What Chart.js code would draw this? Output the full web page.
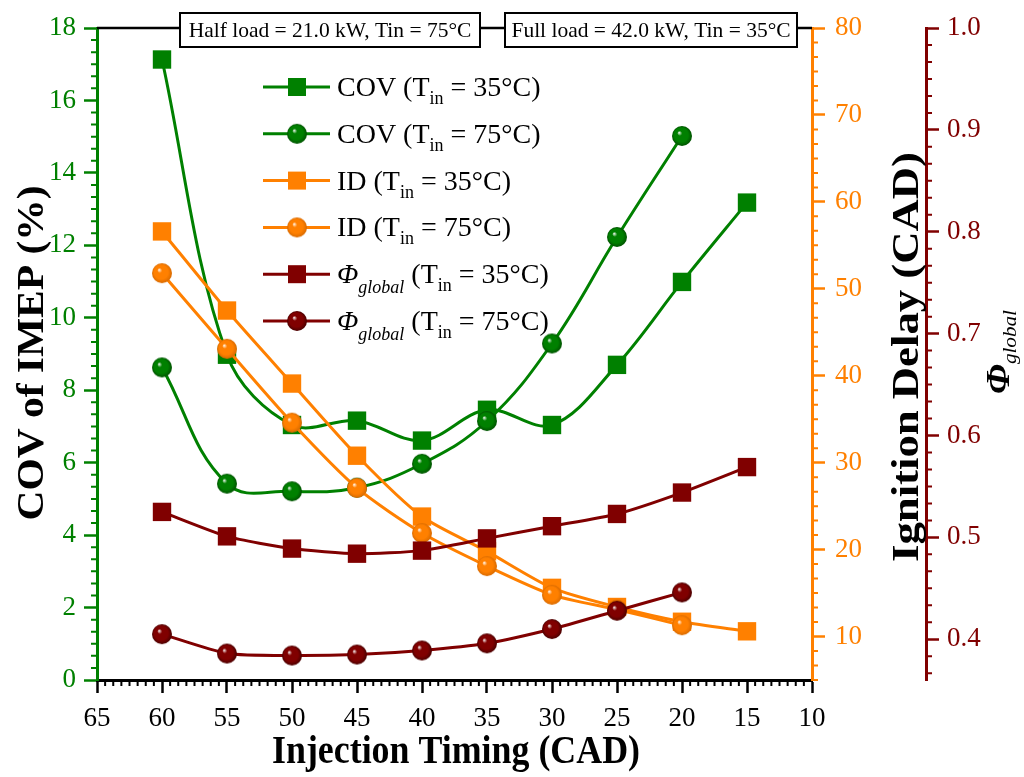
<!DOCTYPE html>
<html>
<head>
<meta charset="utf-8">
<script src="https://cdn.jsdelivr.net/npm/chart.js@4.4.1/dist/chart.umd.min.js"></script>
<style>
  html, body { margin: 0; padding: 0; background: #fff; }
  #wrap { width: 1024px; height: 777px; position: relative; }
</style>
</head>
<body>
<div id="wrap"><canvas id="chart" width="1024" height="777"></canvas></div>
<script>
// ---- data ----
const timing35 = [60, 55, 50, 45, 40, 35, 30, 25, 20, 15];
const timing75 = [60, 55, 50, 45, 40, 35, 30, 25, 20];

const covT35 = [17.13, 8.98, 7.04, 7.16, 6.61, 7.46, 7.04, 8.70, 10.99, 13.18];
const covT75 = [8.63, 5.42, 5.21, 5.31, 5.97, 7.15, 9.29, 12.23, 15.02];
const idT35 = [56.6, 47.5, 39.1, 30.8, 23.8, 19.8, 15.6, 13.4, 11.7, 10.6];
const idT75 = [51.8, 43.1, 34.6, 27.1, 21.9, 18.1, 14.8, 13.1, 11.3];
const phiT35 = [0.525, 0.501, 0.489, 0.484, 0.487, 0.499, 0.511, 0.523, 0.544, 0.569];
const phiT75 = [0.405, 0.386, 0.384, 0.385, 0.389, 0.396, 0.410, 0.428, 0.446];

const xTicks = [65, 60, 55, 50, 45, 40, 35, 30, 25, 20, 15, 10];
const covTicks = [0, 2, 4, 6, 8, 10, 12, 14, 16, 18];
const idTicks = [10, 20, 30, 40, 50, 60, 70, 80];
const phiTicks = [0.4, 0.5, 0.6, 0.7, 0.8, 0.9, 1.0];

const boxTexts = ["Half load = 21.0 kW, Tin = 75°C", "Full load = 42.0 kW, Tin = 35°C"];

const GREEN = "#008000", ORANGE = "#ff8000", MAROON = "#800000";
const SERIF = "'Liberation Serif', 'Times New Roman', serif";

// shaded ball marker like the Origin "sphere" symbol
function sphere(color, edge, r) {
  const c = document.createElement("canvas");
  const s = Math.ceil(r * 2 + 2);
  c.width = c.height = s;
  const g = c.getContext("2d");
  const cx = s / 2, cy = s / 2;
  const grad = g.createRadialGradient(cx - r * 0.3, cy - r * 0.35, 0, cx, cy, r);
  grad.addColorStop(0, "#ffffff");
  grad.addColorStop(0.25, color);
  grad.addColorStop(0.7, color);
  grad.addColorStop(1, edge);
  g.fillStyle = grad;
  g.beginPath();
  g.arc(cx, cy, r, 0, Math.PI * 2);
  g.fill();
  return c;
}
const ballGreen = sphere(GREEN, "#005200", 10);
const ballOrange = sphere(ORANGE, "#d86a00", 10);
const ballMaroon = sphere(MAROON, "#4a0000", 10);

function pts(xs, ys) { return xs.map((x, i) => ({ x: x, y: ys[i] })); }

function series(label, xs, ys, axis, color, marker, tension, order) {
  const isBall = marker !== "rect";
  return {
    label: label,
    data: pts(xs, ys),
    yAxisID: axis,
    borderColor: color,
    backgroundColor: color,
    borderWidth: 3,
    pointStyle: isBall ? marker : "rect",
    pointRadius: isBall ? 10 : 13,
    pointHoverRadius: isBall ? 10 : 13,
    pointBorderWidth: 0,
    tension: tension,
    order: order
  };
}

const legendRows = [
  { color: GREEN, marker: "rect", head: "COV", italic: false, temp: "35°C" },
  { color: GREEN, marker: ballGreen, head: "COV", italic: false, temp: "75°C" },
  { color: ORANGE, marker: "rect", head: "ID", italic: false, temp: "35°C" },
  { color: ORANGE, marker: ballOrange, head: "ID", italic: false, temp: "75°C" },
  { color: MAROON, marker: "rect", head: "Φ", italic: true, temp: "35°C" },
  { color: MAROON, marker: ballMaroon, head: "Φ", italic: true, temp: "75°C" }
];

// draw a run of text pieces, returns width
function runText(ctx, parts, x, y, doDraw) {
  let w = 0;
  parts.forEach(p => {
    ctx.font = p.font;
    if (doDraw) ctx.fillText(p.t, x + w, y + (p.dy || 0));
    w += ctx.measureText(p.t).width;
  });
  return w;
}

// condensed, optionally rotated title (the original lettering is narrow)
function drawTitle(ctx, parts, cx, cy, rot, len, size) {
  ctx.save();
  const w = runText(ctx, parts, 0, 0, false);
  ctx.translate(cx, cy);
  ctx.rotate(rot);
  ctx.scale(len / w, 1);
  ctx.fillStyle = "#000";
  ctx.textBaseline = "alphabetic";
  runText(ctx, parts, -w / 2, size * 0.33, true);
  ctx.restore();
}

function minor(ctx, scale, start, step, from, to, every, len, color) {
  ctx.save();
  ctx.strokeStyle = color;
  ctx.lineWidth = 2;
  ctx.beginPath();
  for (let i = from; i <= to; i++) {
    if (i % every === 0) continue;
    const v = start + i * step;
    const p = scale.getPixelForValue(v);
    if (scale.axis === "x") {
      ctx.moveTo(p, scale.top); ctx.lineTo(p, scale.top + len);
    } else if (scale.position === "left") {
      ctx.moveTo(scale.right, p); ctx.lineTo(scale.right - len, p);
    } else {
      ctx.moveTo(scale.left, p); ctx.lineTo(scale.left + len, p);
    }
  }
  ctx.stroke();
  ctx.restore();
}

const decor = {
  id: "decor",
  afterDraw(chart) {
    const ctx = chart.ctx;
    const a = chart.chartArea;
    const s = chart.scales;

    // minor ticks
    minor(ctx, s.x, 10, 5 / 8, 0, 88, 8, 6, "#000");
    minor(ctx, s.y, 0, 1 / 3, 0, 54, 6, 6, GREEN);
    minor(ctx, s.y1, 10, 10 / 6, -3, 42, 6, 6, ORANGE);
    minor(ctx, s.y2, 0.4, 0.1 / 6, -2, 36, 6, 6, MAROON);

    // top frame
    ctx.save();
    ctx.strokeStyle = "#000";
    ctx.lineWidth = 2.5;
    ctx.beginPath();
    ctx.moveTo(a.left, a.top);
    ctx.lineTo(a.right, a.top);
    ctx.stroke();

    // condition boxes on the top frame
    const boxes = [[180, 300], [505, 292]];
    ctx.font = "21.5px " + SERIF;
    ctx.textAlign = "center";
    ctx.textBaseline = "middle";
    boxes.forEach((b, i) => {
      ctx.fillStyle = "#fff";
      ctx.fillRect(b[0], 13, b[1], 34);
      ctx.lineWidth = 2;
      ctx.strokeRect(b[0], 13, b[1], 34);
      ctx.fillStyle = "#000";
      ctx.fillText(boxTexts[i], b[0] + b[1] / 2, 31);
    });
    ctx.textAlign = "left";
    ctx.restore();

    // legend
    ctx.save();
    ctx.textBaseline = "alphabetic";
    const big = "28px " + SERIF, small = "18px " + SERIF;
    legendRows.forEach((r, i) => {
      const y = 87 + i * 46.8;
      ctx.strokeStyle = r.color;
      ctx.lineWidth = 3;
      ctx.beginPath();
      ctx.moveTo(263, y); ctx.lineTo(330, y);
      ctx.stroke();
      if (r.marker === "rect") {
        ctx.fillStyle = r.color;
        ctx.fillRect(297 - 9, y - 9, 18, 18);
      } else {
        ctx.drawImage(r.marker, 297 - r.marker.width / 2, y - r.marker.height / 2);
      }
      ctx.fillStyle = "#000";
      const parts = r.italic
        ? [{ t: "Φ", font: "italic " + big }, { t: "global", font: "italic " + small, dy: 10 },
           { t: " (T", font: big }, { t: "in", font: small, dy: 8 }, { t: " = " + r.temp + ")", font: big }]
        : [{ t: r.head + " (T", font: big }, { t: "in", font: small, dy: 8 }, { t: " = " + r.temp + ")", font: big }];
      runText(ctx, parts, 337, y + 9, true);
    });
    ctx.restore();

    // axis titles
    drawTitle(ctx, [{ t: "COV of IMEP (%)", font: "bold 38px " + SERIF }], 30, 353, -Math.PI / 2, 335, 38);
    drawTitle(ctx, [{ t: "Injection Timing (CAD)", font: "bold 40px " + SERIF }], 456, 750, 0, 368, 40);
    drawTitle(ctx, [{ t: "Ignition Delay (CAD)", font: "bold 38px " + SERIF }], 905, 357, -Math.PI / 2, 410, 38);
    drawTitle(ctx, [{ t: "Φ", font: "bold italic 34px " + SERIF },
                    { t: "global", font: "italic 19px " + SERIF, dy: 7 }],
              998, 352, -Math.PI / 2, 84, 34);
  }
};

const tickFont = { family: SERIF, size: 27 };

new Chart(document.getElementById("chart"), {
  type: "line",
  data: {
    datasets: [
      series("COV (Tin = 35°C)", timing35, covT35, "y", GREEN, "rect", 0.35, 6),
      series("COV (Tin = 75°C)", timing75, covT75, "y", GREEN, ballGreen, 0.4, 5),
      series("ID (Tin = 35°C)", timing35, idT35, "y1", ORANGE, "rect", 0.25, 4),
      series("ID (Tin = 75°C)", timing75, idT75, "y1", ORANGE, ballOrange, 0.25, 3),
      series("Φglobal (Tin = 35°C)", timing35, phiT35, "y2", MAROON, "rect", 0.2, 2),
      series("Φglobal (Tin = 75°C)", timing75, phiT75, "y2", MAROON, ballMaroon, 0.2, 1)
    ]
  },
  options: {
    responsive: false,
    animation: false,
    devicePixelRatio: 1,
    layout: { padding: { top: 28, left: 0, right: 0, bottom: 0 } },
    plugins: { legend: { display: false }, tooltip: { enabled: false } },
    scales: {
      x: {
        type: "linear",
        reverse: true,
        min: 10,
        max: 65,
        afterBuildTicks: s => { s.ticks = xTicks.map(v => ({ value: v })); },
        afterFit: s => { s.height = 97; },
        ticks: { font: tickFont, color: "#000", padding: 10, maxRotation: 0, autoSkip: false },
        grid: { drawOnChartArea: false, tickLength: 13, tickWidth: 2.5, tickColor: "#000" },
        border: { color: "#000", width: 3 }
      },
      y: {
        position: "left",
        min: 0,
        max: 18,
        afterBuildTicks: s => { s.ticks = covTicks.map(v => ({ value: v })); },
        afterFit: s => { s.width = 97; },
        ticks: { font: tickFont, color: GREEN, padding: 8 },
        grid: { drawOnChartArea: false, tickLength: 13, tickWidth: 2.5, tickColor: GREEN },
        border: { color: GREEN, width: 3 }
      },
      y1: {
        position: "right",
        min: 5,
        max: 80,
        afterBuildTicks: s => { s.ticks = idTicks.map(v => ({ value: v })); },
        afterFit: s => { s.width = 114; },
        ticks: { font: tickFont, color: ORANGE, padding: 10 },
        grid: { drawOnChartArea: false, tickLength: 13, tickWidth: 2.5, tickColor: ORANGE },
        border: { color: ORANGE, width: 3 }
      },
      y2: {
        position: "right",
        min: 0.36,
        max: 1.0,
        afterBuildTicks: s => { s.ticks = phiTicks.map(v => ({ value: v })); },
        afterFit: s => { s.width = 98; },
        ticks: { font: tickFont, color: MAROON, padding: 8, callback: v => v.toFixed(1) },
        grid: { drawOnChartArea: false, tickLength: 13, tickWidth: 2.5, tickColor: MAROON },
        border: { color: MAROON, width: 3 }
      }
    }
  },
  plugins: [decor]
});
</script>
</body>
</html>
